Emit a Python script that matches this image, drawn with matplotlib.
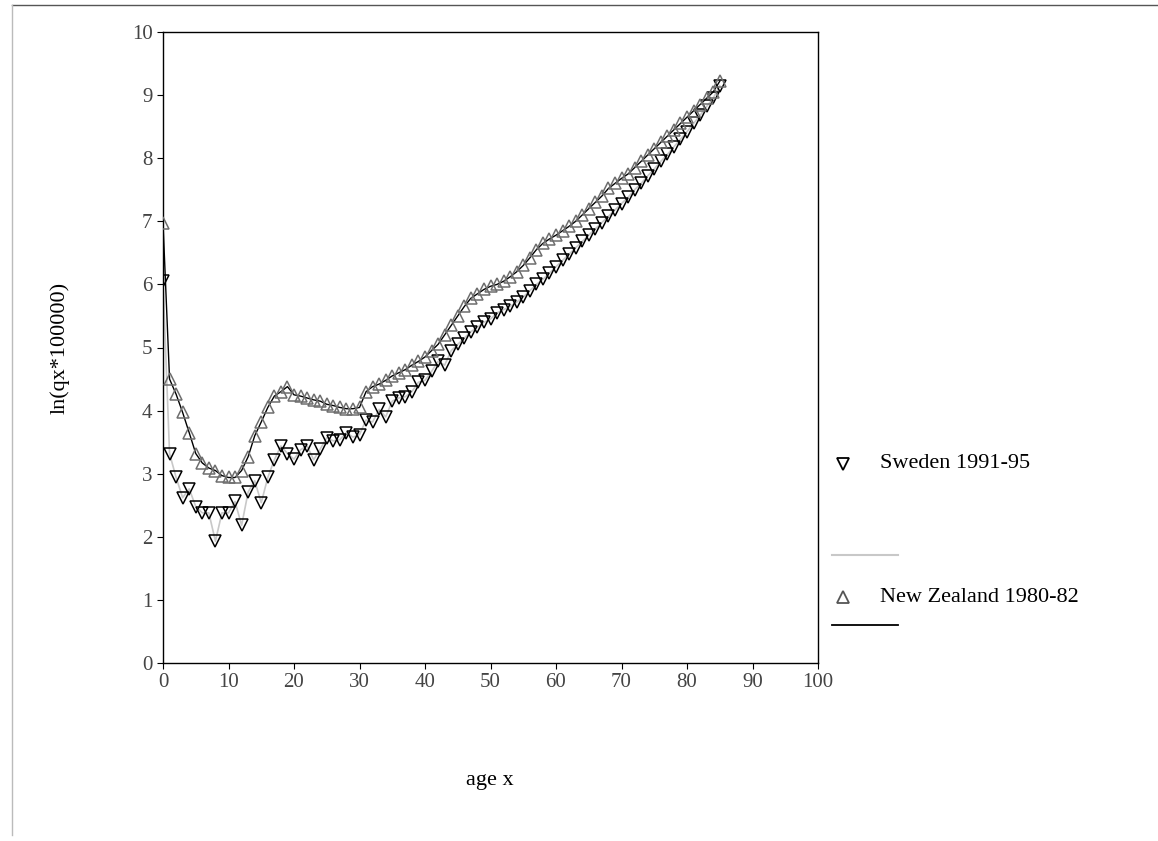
import numpy as np
import matplotlib
matplotlib.use("Agg")
import matplotlib.pyplot as plt
from matplotlib.lines import Line2D

plt.rcParams['font.family'] = ['Liberation Serif', 'DejaVu Serif']

# ages 0..85
age = np.arange(0, 86)

# Sweden 1991-95, ln(qx*100000)
sweden = [6.05, 3.32, 2.94, 2.62, 2.76, 2.48, 2.38, 2.38, 1.93, 2.38,
          2.38, 2.56, 2.18, 2.71, 2.89, 2.54, 2.94, 3.22, 3.44, 3.32,
          3.23, 3.38, 3.44, 3.22, 3.39, 3.57, 3.52, 3.54, 3.65, 3.58,
          3.62, 3.85, 3.82, 4.02, 3.90, 4.15, 4.20, 4.22, 4.30, 4.45,
          4.48, 4.62, 4.78, 4.72, 4.95, 5.05, 5.15, 5.25, 5.32, 5.40,
          5.45, 5.55, 5.60, 5.65, 5.72, 5.80, 5.90, 6.00, 6.08, 6.18,
          6.28, 6.38, 6.48, 6.58, 6.68, 6.78, 6.88, 6.98, 7.08, 7.18,
          7.28, 7.38, 7.50, 7.60, 7.72, 7.83, 7.95, 8.06, 8.18, 8.30,
          8.42, 8.55, 8.68, 8.82, 8.95, 9.15]

# New Zealand 1980-82, ln(qx*100000)
nz = [6.98, 4.50, 4.26, 3.97, 3.65, 3.32, 3.17, 3.09, 3.05, 2.97,
      2.94, 2.94, 3.05, 3.27, 3.60, 3.82, 4.05, 4.23, 4.30, 4.38,
      4.25, 4.23, 4.20, 4.17, 4.15, 4.10, 4.08, 4.05, 4.03, 4.03,
      4.05, 4.30, 4.38, 4.42, 4.48, 4.55, 4.60, 4.65, 4.72, 4.78,
      4.85, 4.95, 5.05, 5.20, 5.35, 5.50, 5.65, 5.78, 5.85, 5.92,
      5.97, 6.00, 6.05, 6.12, 6.20, 6.30, 6.42, 6.55, 6.65, 6.72,
      6.78, 6.85, 6.92, 7.00, 7.10, 7.20, 7.30, 7.40, 7.52, 7.60,
      7.68, 7.75, 7.85, 7.95, 8.05, 8.15, 8.25, 8.35, 8.45, 8.55,
      8.65, 8.75, 8.85, 8.95, 9.05, 9.22]

fig = plt.figure(figsize=(11.58, 8.41), dpi=100)
W, H = 1158, 841
ax = fig.add_axes([163 / W, 1 - 663 / H, (818 - 163) / W, (663 - 32) / H])

ax.plot(age, sweden, color='#c8c8c8', lw=1.2, zorder=2)
ax.plot(age, nz, color='black', lw=1.0, zorder=3)
ax.plot(age, sweden, ls='none', marker='v', ms=8, mfc='none', mec='black', mew=1.1, zorder=4)
ax.plot(age, nz, ls='none', marker='^', ms=8, mfc='none', mec='#6e6e6e', mew=1.1, zorder=4)

ax.set_xlim(0, 100)
ax.set_ylim(0, 10)
ax.set_xticks(np.arange(0, 101, 10))
ax.set_yticks(np.arange(0, 11, 1))
ax.tick_params(labelsize=15, labelcolor='#444444', length=4, width=0.8, direction='out')
for s in ax.spines.values():
    s.set_linewidth(1.0)

ax.set_ylabel('ln(qx*100000)', fontsize=16, labelpad=45)
fig.text(490 / W, 1 - 780 / H, 'age x', fontsize=16, ha='center', va='center')

# legend outside on the right
fig.add_artist(Line2D([843 / W], [1 - 464 / H], marker='v', ms=8, mfc='none', mec='black', mew=1.3, ls='none'))
fig.text(880 / W, 1 - 464 / H, 'Sweden 1991-95', fontsize=16, va='center')
fig.add_artist(Line2D([832 / W, 898 / W], [1 - 555 / H, 1 - 555 / H], color='#c8c8c8', lw=1.5))
fig.add_artist(Line2D([843 / W], [1 - 597 / H], marker='^', ms=8, mfc='none', mec='#555555', mew=1.3, ls='none'))
fig.text(880 / W, 1 - 597 / H, 'New Zealand 1980-82', fontsize=16, va='center')
fig.add_artist(Line2D([832 / W, 898 / W], [1 - 625 / H, 1 - 625 / H], color='black', lw=1.3))

# scan frame
fig.add_artist(Line2D([12 / W, 1], [1 - 5 / H, 1 - 5 / H], color='#555555', lw=1.0))
fig.add_artist(Line2D([12 / W, 12 / W], [1 - 5 / H, 1 - 835 / H], color='#bbbbbb', lw=1.0))

fig.savefig('out.png', dpi=100)
